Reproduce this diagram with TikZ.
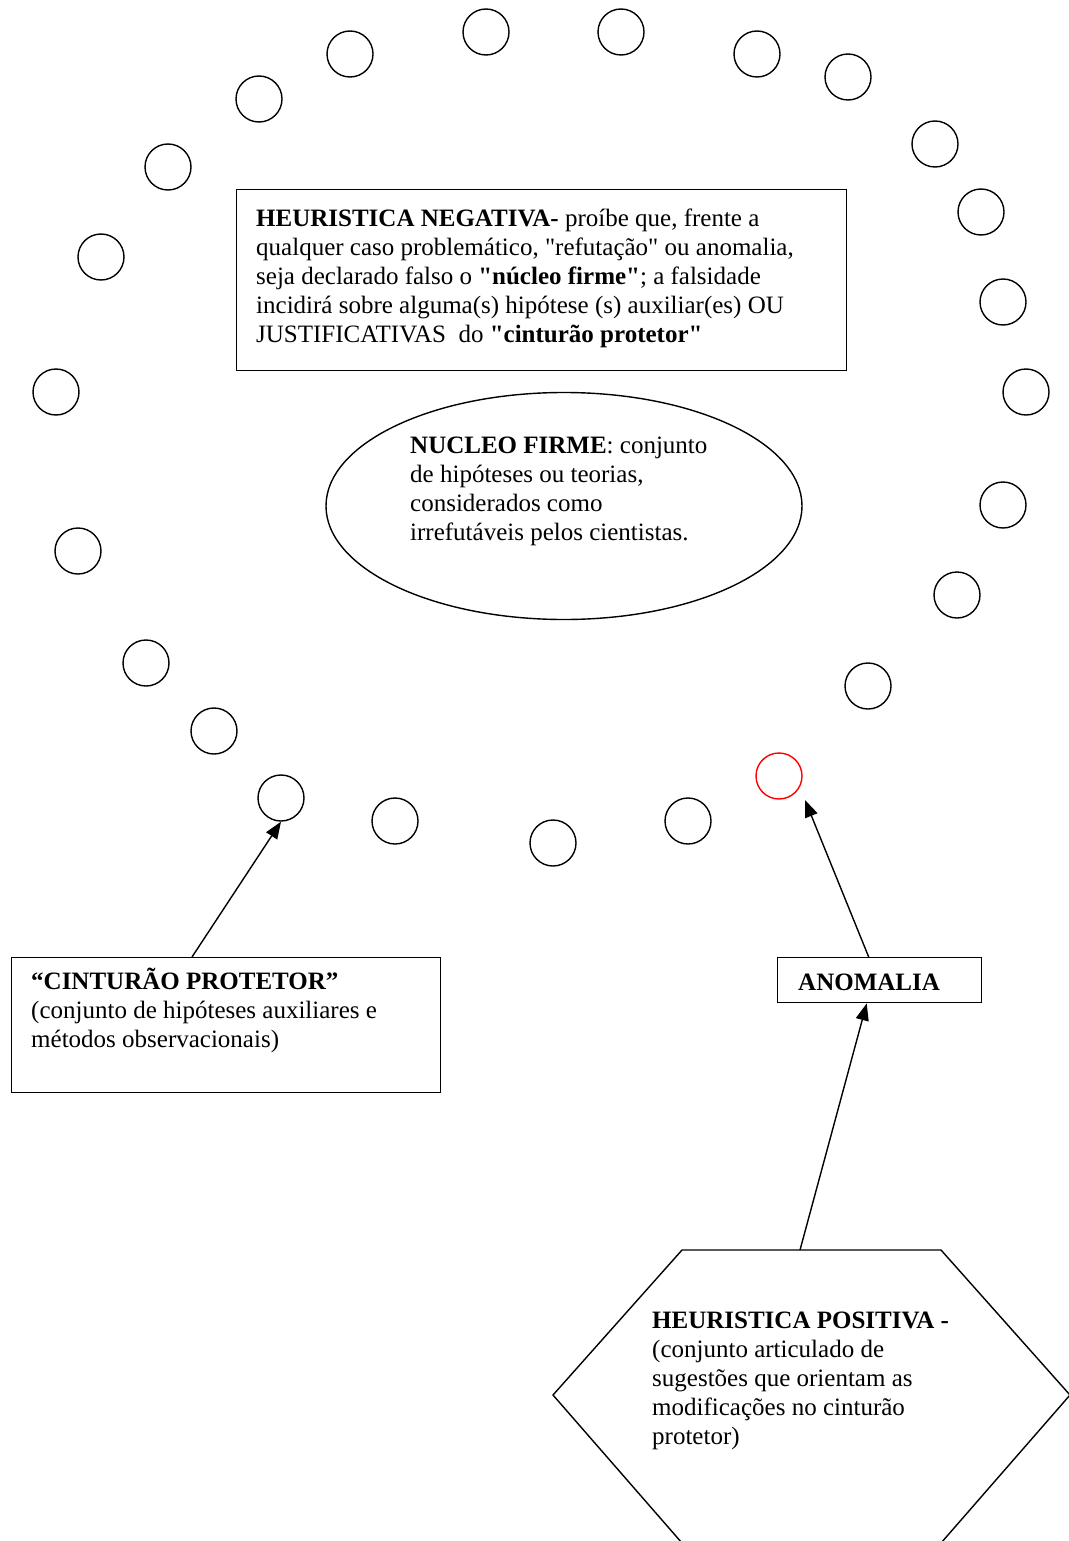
\documentclass[tikz,border=0pt]{standalone}
\usepackage{fontspec}
\setmainfont{Liberation Serif}[Ligatures=TeXOff]
\usetikzlibrary{arrows.meta,shapes.geometric}
\begin{document}
\begin{tikzpicture}[x=1pt,y=-1pt,
  dot/.style={circle, draw, line width=1.4pt, minimum size=46pt, inner sep=0pt},
  reddot/.style={dot, draw=red},
  frame/.style={draw, line width=1.4pt, inner sep=0pt, anchor=north west},
  txt/.style={inner sep=0pt, anchor=north west, align=left,
              font=\fontsize{25}{29}\selectfont},
  link/.style={-{Triangle[length=17pt,width=13pt]}, line width=1.4pt}]
\useasboundingbox (0,0) rectangle (1068,1541);

% ring of auxiliary hypotheses
\node[dot] (c1)  at (486,32)  {};
\node[dot] (c2)  at (621,32)  {};
\node[dot] (c3)  at (350,54)  {};
\node[dot] (c4)  at (757,54)  {};
\node[dot] (c5)  at (259,99)  {};
\node[dot] (c6)  at (848,77)  {};
\node[dot] (c7)  at (168,167) {};
\node[dot] (c8)  at (935,144) {};
\node[dot] (c9)  at (101,257) {};
\node[dot] (c10) at (981,212) {};
\node[dot] (c11) at (1003,302) {};
\node[dot] (c12) at (56,392)  {};
\node[dot] (c13) at (1026,392) {};
\node[dot] (c14) at (1003,505) {};
\node[dot] (c15) at (78,551)  {};
\node[dot] (c16) at (957,595) {};
\node[dot] (c17) at (146,663) {};
\node[dot] (c18) at (868,686) {};
\node[dot] (c19) at (214,731) {};
\node[dot] (c20) at (281,798) {};
\node[dot] (c21) at (395,821) {};
\node[dot] (c22) at (553,843) {};
\node[dot] (c23) at (688,821) {};
\node[reddot] (c24) at (779,776) {};

% negative heuristic
\node[frame, minimum width=610pt, minimum height=181pt] (neg) at (236,189) {};
\node[txt] (negtext) at (256,206) {\strut\textbf{HEURISTICA NEGATIVA-} proíbe que, frente a\\
qualquer caso problemático, "refutação" ou anomalia,\\
seja declarado falso o \textbf{"núcleo firme"}; a falsidade\\
incidirá sobre alguma(s) hipótese (s) auxiliar(es) OU\\
JUSTIFICATIVAS\ \ do \textbf{"cinturão protetor"}};

% hard core
\node[ellipse, draw, line width=1.4pt, minimum width=476pt, minimum height=227pt, inner sep=0pt] (core) at (564,506) {};
\node[txt] (coretext) at (410,433) {\strut\textbf{NUCLEO FIRME}: conjunto\\
de hipóteses ou teorias,\\
considerados como\\
irrefutáveis pelos cientistas.};

% protective belt
\node[frame, minimum width=429pt, minimum height=135pt] (belt) at (11,957) {};
\node[txt] (belttext) at (31,968) {\strut\textbf{“CINTURÃO PROTETOR”}\\
(conjunto de hipóteses auxiliares e\\
métodos observacionais)};

% anomaly
\node[frame, minimum width=204pt, minimum height=45pt] (anom) at (777,957) {};
\node[txt] (anomtext) at (798,970) {\strut\textbf{ANOMALIA}};

% positive heuristic
\coordinate (hA) at (682,1250);
\coordinate (hB) at (941,1250);
\coordinate (hC) at (1070,1395);
\coordinate (hD) at (941,1543);
\coordinate (hE) at (682,1543);
\coordinate (hF) at (553,1395);
\draw[line width=1.4pt] (hA) -- (hB) -- (hC) -- (hD) -- (hE) -- (hF) -- cycle;
\coordinate (hexTop) at (800,1250);
\node[txt] (postext) at (652,1308) {\strut\textbf{HEURISTICA POSITIVA -}\\
(conjunto articulado de\\
sugestões que orientam as\\
modificações no cinturão\\
protetor)};

% connectors
\coordinate (redTip) at (805,800);
\draw[link] ([xshift=181pt]belt.north west) -- (c20.south);
\draw[link] ([xshift=-11pt]anom.north) -- (redTip);
\draw[link] (hexTop) -- ([xshift=-13pt]anom.south);
\end{tikzpicture}
\end{document}
